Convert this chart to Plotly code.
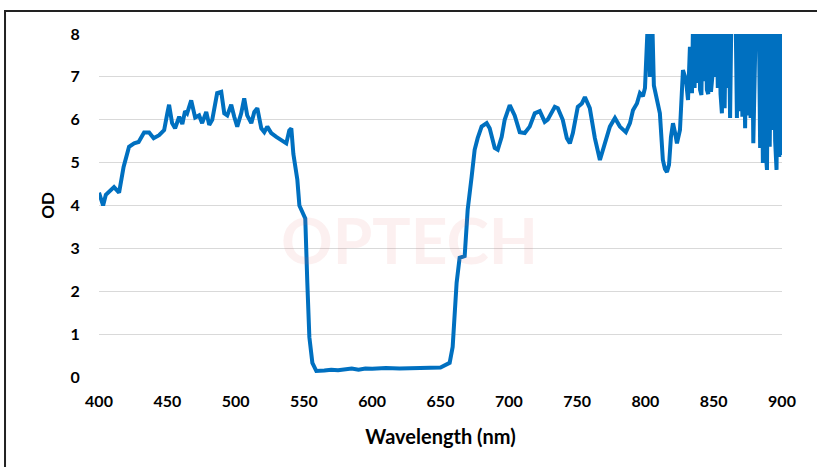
import plotly.graph_objects as go

# Wavelength (nm) and optical density
wl_main = [400, 402, 403, 405, 411, 414.7, 418, 422, 425.7, 429, 433, 436.7, 440, 444, 447.7,
           450, 451.3, 453.5, 455.7, 458.7, 461, 463, 464.5, 467.5, 470.4, 473.3, 475.5, 478.5,
           480.7, 482.9, 486.5, 489.5, 491.7, 493.9, 496.8, 499, 501.2, 504.1, 506.3, 508.5,
           511.5, 513.7, 515.9, 518.8, 521, 523.2, 526.1, 529.8, 533.5, 537.1, 539.3, 540.8,
           542.3, 543.7, 545.2, 546.7, 548.1, 551, 552.5, 554, 556.2, 559.1,
           565, 570, 575, 580, 585, 590, 595, 600, 605, 610, 620, 630, 640, 645, 650,
           656.7, 658.9, 661.8, 664, 667.7, 669.9, 672.8, 675, 677.2, 680.1, 683.8, 686,
           689.7, 691.9, 694.8, 697, 700.7, 704.3, 708, 711.7, 715.3, 719, 722.7, 726.3,
           728.5, 733.7, 735.9, 739.5, 742.5, 744.7, 746.9, 750.5, 753.5, 755.7, 759.3,
           763, 766.7, 770.3, 774, 777.7, 781.3, 785.7, 788.7, 790.9, 793.8, 796, 798.2,
           799.7, 801.2, 802.2, 803.3, 804.8, 806.2, 808.4, 810.6, 812.8, 814.3, 815.8,
           817.3, 818.7, 820.2, 821.7, 823.1, 825.3, 827.5, 829.7, 831.2, 832.6, 834.1]
od_main = [4.3, 4.05, 4.0, 4.25, 4.43, 4.3, 4.9, 5.37, 5.45, 5.48, 5.7, 5.7, 5.57, 5.64, 5.76,
           6.15, 6.35, 5.92, 5.8, 6.07, 5.9, 6.2, 6.15, 6.45, 6.05, 6.1, 5.92, 6.18,
           5.88, 6.0, 6.62, 6.65, 6.15, 6.1, 6.35, 6.07, 5.84, 6.15, 6.5, 6.1,
           5.92, 6.18, 6.27, 5.8, 5.71, 5.84, 5.69, 5.6, 5.53, 5.45, 5.75, 5.8,
           5.2, 4.85, 4.6, 4.0, 3.9, 3.7, 2.2, 0.93, 0.33, 0.14,
           0.15, 0.17, 0.16, 0.18, 0.2, 0.17, 0.2, 0.19, 0.2, 0.21, 0.2, 0.2, 0.2, 0.21, 0.22,
           0.33, 0.7, 2.2, 2.78, 2.82, 3.9, 4.67, 5.3, 5.57, 5.84, 5.92, 5.8,
           5.34, 5.3, 5.6, 6.0, 6.34, 6.1, 5.71, 5.69, 5.84, 6.15, 6.2, 5.95,
           6.0, 6.3, 6.27, 6.0, 5.57, 5.45, 5.69, 6.3, 6.38, 6.53, 6.27,
           5.57, 5.06, 5.41, 5.84, 6.04, 5.84, 5.71, 5.92, 6.22, 6.38, 6.62, 6.55,
           6.74, 8.6, 8.6, 7.0, 8.6, 6.8, 6.5, 6.15, 5.06, 4.85, 4.78,
           4.95, 5.6, 5.92, 5.7, 5.45, 5.76, 7.16, 6.93, 6.46, 7.7, 6.62]

# Noisy region 835-900 nm (values above 8 are off-scale spikes)
wl_noisy = list(range(835, 901))
od_noisy = [8.6, 6.74, 8.6, 6.86, 8.6, 6.7, 6.58, 8.6, 6.9, 8.6,
            6.7, 6.6, 8.6, 6.65, 7.0, 8.6, 7.0, 8.6, 6.74, 8.6,
            6.6, 6.15, 8.6, 6.27, 8.6, 6.74, 8.6, 6.04, 8.6, 8.6,
            8.6, 8.6, 6.04, 8.6, 6.2, 8.6, 6.07, 8.6, 5.8, 8.6,
            6.1, 8.6, 6.04, 8.6, 5.45, 8.6, 8.6, 8.6, 8.6, 5.34,
            8.6, 4.99, 8.6, 5.3, 4.83, 8.6, 5.37, 8.6, 5.76, 8.6,
            5.5, 4.83, 8.6, 5.13, 8.6, 5.18]

wavelength = wl_main + wl_noisy
od = od_main + od_noisy

x_ticks = [400, 450, 500, 550, 600, 650, 700, 750, 800, 850, 900]
y_ticks = [0, 1, 2, 3, 4, 5, 6, 7, 8]

FONT = "Lato"

fig = go.Figure()
fig.add_trace(go.Scatter(x=wavelength, y=od, mode="lines",
                         line=dict(color="#0070C0", width=4), hoverinfo="x+y"))

fig.update_layout(
    width=817, height=467,
    margin=dict(l=99, r=35, t=34, b=90),
    paper_bgcolor="white", plot_bgcolor="white",
    showlegend=False,
    font=dict(family=FONT, color="black"),
    xaxis=dict(range=[400, 900], tickvals=x_ticks, ticktext=[str(v) for v in x_ticks],
               showgrid=False, zeroline=False, showline=False,
               ticks="outside", ticklen=10, tickcolor="rgba(0,0,0,0)",
               tickfont=dict(family=FONT, size=16, color="black", weight="bold"),
               title=dict(text="<b>Wavelength (nm)</b>", font=dict(family=FONT, size=20),
                          standoff=20)),
    yaxis=dict(range=[0, 8], tickvals=y_ticks, showgrid=True, gridcolor="#d9d9d9",
               gridwidth=1, zeroline=False, showline=False,
               ticks="outside", ticklen=15, tickcolor="rgba(0,0,0,0)",
               tickfont=dict(family=FONT, size=16, color="black", weight="bold"),
               title=dict(text="<b>OD</b>", font=dict(family=FONT, size=17), standoff=11)),
    shapes=[dict(type="rect", xref="paper", yref="paper", x0=-0.1376, x1=1.2,
                 y0=-0.4, y1=1.067, line=dict(color="#222222", width=2), layer="below")],
    annotations=[dict(text="<b>OPTECH</b>", x=0.455, y=0.40, xref="paper", yref="paper",
                      showarrow=False, font=dict(family=FONT, size=64,
                                                 color="rgba(225,110,110,0.10)"))],
)

fig.write_html("out.html", config={"displayModeBar": False},
               post_script="document.body.style.margin='0px';")
